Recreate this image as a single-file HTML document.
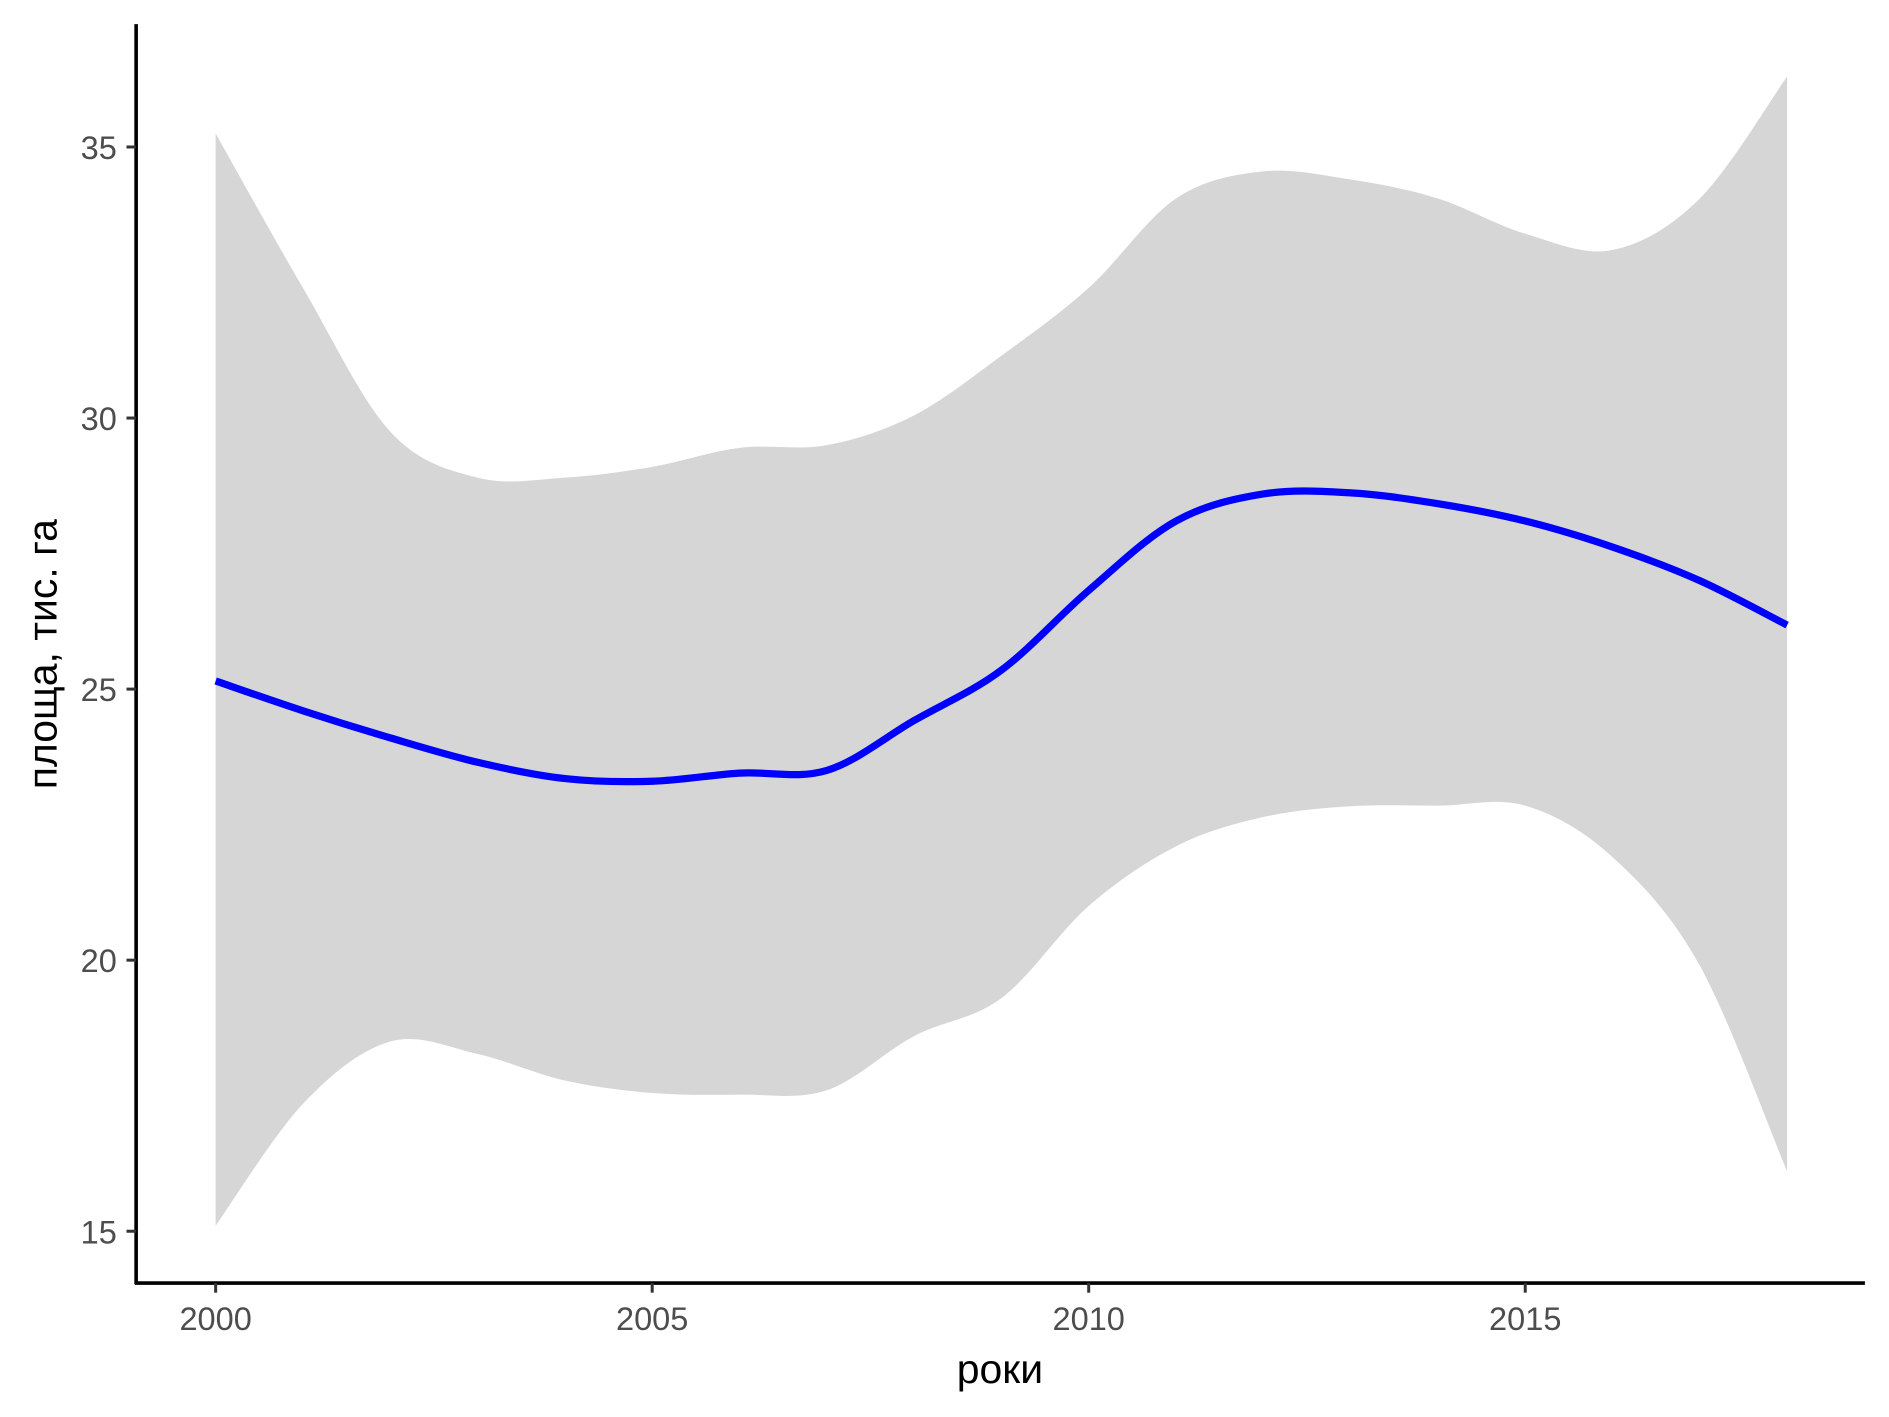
<!DOCTYPE html>
<html><head><meta charset="utf-8"><style>html,body{margin:0;padding:0;background:#fff}svg{display:block}</style></head>
<body>
<svg id="chart" width="1889" height="1417" viewBox="0 0 1568 1176.2" xmlns="http://www.w3.org/2000/svg" font-family="'Liberation Sans', sans-serif">
<rect width="1568" height="1176.2" fill="#fff"/>
<g id="band"></g><g id="line"></g><g id="axes"></g>
</svg>
<script>
const years=[2000,2001,2002,2003,2004,2005,2006,2007,2008,2009,2010,2011,2012,2013,2014,2015,2016,2017,2018];
const meanVals=[25.15,24.6,24.1,23.65,23.35,23.3,23.45,23.5,24.42,25.35,26.82,28.1,28.6,28.62,28.42,28.1,27.62,27.0,26.18];
const upperVals=[35.25,32.4,29.75,28.9,28.9,29.1,29.45,29.5,30.05,31.15,32.4,34.05,34.55,34.4,34.05,33.4,33.1,34.05,36.3];
const lowerVals=[15.1,17.35,18.5,18.27,17.78,17.55,17.52,17.6,18.6,19.3,21.0,22.1,22.64,22.84,22.85,22.85,21.9,19.9,16.1];
const xTicks=[2000,2005,2010,2015];
const yTicks=[15,20,25,30,35];
const X=v=>179+(v-2000)*72.47;
const Y=v=>572-(v-25)*45;
const NS='http://www.w3.org/2000/svg';
function el(t,a,p){const e=document.createElementNS(NS,t);for(const k in a)e.setAttribute(k,a[k]);p.appendChild(e);return e;}
function smooth(pts){let d='';for(let i=0;i<pts.length;i++){const p=pts[i];if(i===0){d+='M'+p[0]+','+p[1];continue;}
const p0=pts[Math.max(i-2,0)],p1=pts[i-1],p2=p,p3=pts[Math.min(i+1,pts.length-1)];
const c1=[p1[0]+(p2[0]-p0[0])/6,p1[1]+(p2[1]-p0[1])/6],c2=[p2[0]-(p3[0]-p1[0])/6,p2[1]-(p3[1]-p1[1])/6];
d+='C'+c1.join(',')+' '+c2.join(',')+' '+p2.join(',');}return d;}
const up=years.map((y,i)=>[X(y),Y(upperVals[i])]);
const lo=years.map((y,i)=>[X(y),Y(lowerVals[i])]).reverse();
const bandD=smooth(up)+' L'+smooth(lo).slice(1)+'Z';
const band=el('path',{d:bandD,fill:'#d6d6d6'},document.getElementById('band'));


const ln=el('path',{d:smooth(years.map((y,i)=>[X(y),Y(meanVals[i])])),fill:'none',stroke:'#0000ff','stroke-width':6},document.getElementById('line'));


const ax=document.getElementById('axes');
const ya=el('line',{x1:113,y1:20,x2:113,y2:1066,stroke:'#000','stroke-width':3},ax);


const xa=el('line',{x1:112,y1:1065,x2:1548,y2:1065,stroke:'#000','stroke-width':3},ax);


xTicks.forEach(t=>{el('line',{x1:X(t),y1:1065,x2:X(t),y2:1073,stroke:'#333','stroke-width':2.5},ax);
const tx=el('text',{x:X(t),y:1104,'text-anchor':'middle','font-size':27,fill:'#4d4d4d'},ax);tx.textContent=t;

});
yTicks.forEach(t=>{el('line',{x1:105,y1:Y(t),x2:113,y2:Y(t),stroke:'#333','stroke-width':2.5},ax);
const tx=el('text',{x:97,y:Y(t)+10,'text-anchor':'end','font-size':27,fill:'#4d4d4d'},ax);tx.textContent=t;

});
const xt=el('text',{x:830,y:1148,'text-anchor':'middle','font-size':34,fill:'#000'},ax);xt.textContent='роки';


const yt=el('text',{x:0,y:0,'text-anchor':'middle','font-size':34,fill:'#000',transform:'translate(47,543) rotate(-90)'},ax);yt.textContent='площа, тис. га';


</script>
</body></html>
